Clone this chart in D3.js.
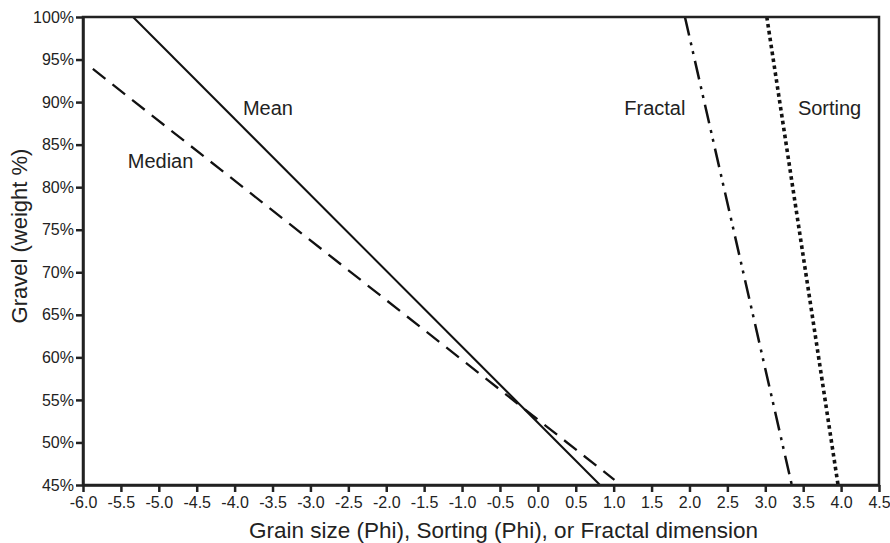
<!DOCTYPE html>
<html><head><meta charset="utf-8">
<script src="https://cdn.jsdelivr.net/npm/d3@7"></script>
<style>
body{margin:0;background:#fff;}
text{font-family:"Liberation Sans",Arial,Helvetica,sans-serif;fill:#222;}
</style></head>
<body><svg id="chart" width="890" height="543"></svg>
<script>
// Data (line endpoints): x = Phi / fractal dimension, y = gravel %
const meanX = [-5.34, 0.82];
const meanY = [100, 45];
const medianX = [-5.87, 1.01];
const medianY = [93.9, 45.6];
const fractalX = [1.94, 3.35];
const fractalY = [100, 45];
const sortingX = [3.02, 3.96];
const sortingY = [100, 45];
const seriesNames = ["Mean", "Median", "Fractal", "Sorting"];
const labelPos = [[-3.89, 89.1], [-5.41, 82.9], [1.14, 89.1], [3.43, 89.1]];
const xTicks = d3.range(-6, 4.51, 0.5);
const yTicks = d3.range(45, 100.1, 5);

const svg = d3.select("#chart");
const L = 83, R = 879, T = 17, B = 485;
const x = d3.scaleLinear().domain([-6, 4.5]).range([L, R]);
const y = d3.scaleLinear().domain([45, 100]).range([B, T]);

const series = [
  {name: seriesNames[0], xs: meanX, ys: meanY, dash: null, w: 2},
  {name: seriesNames[1], xs: medianX, ys: medianY, dash: "16,9", w: 2.3},
  {name: seriesNames[2], xs: fractalX, ys: fractalY, dash: "19,7,3,6,3,7", w: 2.5},
  {name: seriesNames[3], xs: sortingX, ys: sortingY, dash: "3.6,3.4", w: 3.6}
];
const line = d3.line().x(d => x(d[0])).y(d => y(d[1]));
svg.append("g").selectAll("path").data(series).join("path")
  .attr("d", s => line(s.xs.map((v, i) => [v, s.ys[i]])))
  .attr("fill", "none").attr("stroke", "#111")
  .attr("stroke-width", s => s.w)
  .attr("stroke-dasharray", s => s.dash);

// frame
svg.append("rect").attr("x", L).attr("y", T).attr("width", R - L).attr("height", B - T)
  .attr("fill", "none").attr("stroke", "#222").attr("stroke-width", 2.5);

const xAxis = svg.append("g").attr("transform", `translate(0,${B})`)
  .call(d3.axisBottom(x).tickValues(xTicks).tickFormat(d => d.toFixed(1)).tickSize(7).tickSizeOuter(0));
const yAxis = svg.append("g").attr("transform", `translate(${L},0)`)
  .call(d3.axisLeft(y).tickValues(yTicks).tickFormat(d => d + "%").tickSize(7).tickSizeOuter(0));
[xAxis, yAxis].forEach(a => {
  a.select(".domain").attr("stroke", "#222").attr("stroke-width", 2.5);
  a.selectAll(".tick line").attr("stroke", "#222").attr("stroke-width", 2.5);
  a.selectAll(".tick text").style("font-size", "16px").style("fill", "#222")
    .style("font-family", '"Liberation Sans",Arial,sans-serif');
});
xAxis.selectAll(".tick text").attr("y", 12).attr("dy", "0.71em");
yAxis.selectAll(".tick text").attr("x", -9);

svg.append("text").attr("x", 503.5).attr("y", 538).attr("text-anchor", "middle")
  .style("font-size", "22.5px").text("Grain size (Phi), Sorting (Phi), or Fractal dimension");
svg.append("text").attr("transform", `translate(27,236) rotate(-90)`)
  .attr("text-anchor", "middle").style("font-size", "22px").text("Gravel (weight %)");

svg.append("g").selectAll("text").data(seriesNames).join("text")
  .attr("x", (d, i) => x(labelPos[i][0])).attr("y", (d, i) => y(labelPos[i][1]))
  .attr("dominant-baseline", "middle").style("font-size", "20px").text(d => d);
</script></body></html>
